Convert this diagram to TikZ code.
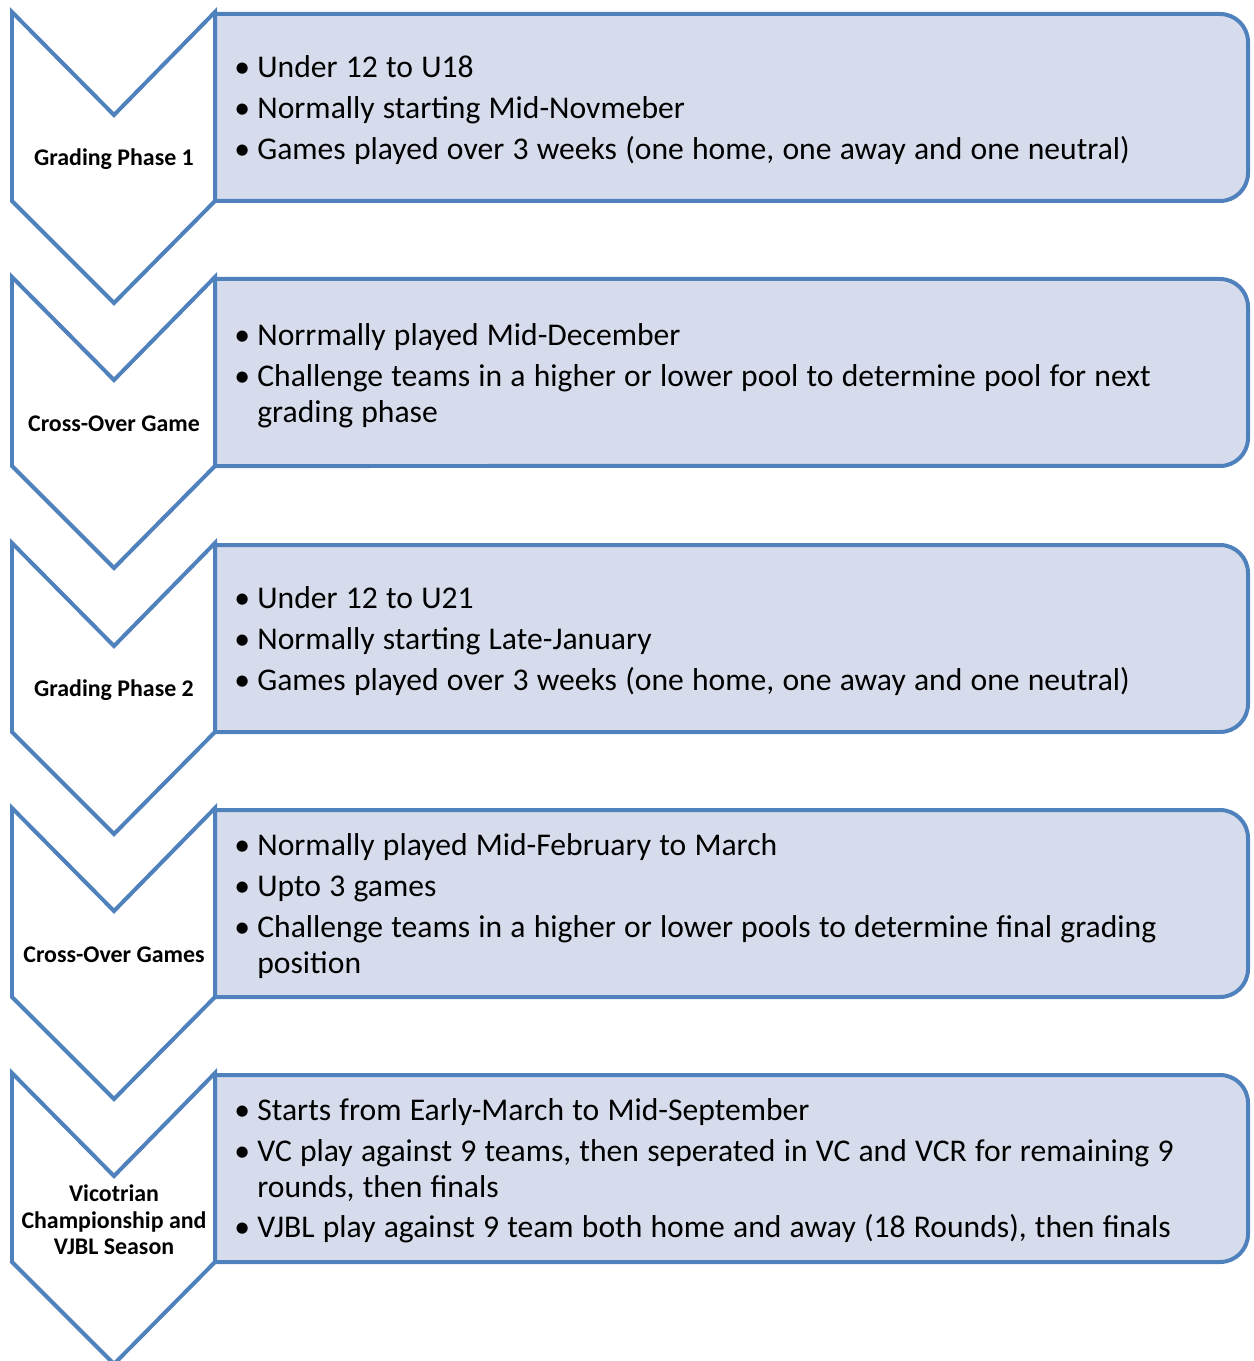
\documentclass[tikz,border=0pt]{standalone}
\usepackage{fontspec}
\setmainfont{Carlito}
\definecolor{stageline}{RGB}{79,129,189}
\definecolor{stagefill}{RGB}{214,220,236}
\newcommand{\stageitem}[1]{\spaceskip=0.26em\xspaceskip=0.26em
  \hangindent=0.46cm\hangafter=1\noindent\makebox[0.46cm][l]{•}#1\par}

\begin{document}
\frenchspacing
\begin{tikzpicture}[x=0.02cm,y=-0.02cm,
                chevron/.style={draw=stageline,line width=0.08cm,fill=white,line join=miter},
                panel/.style={draw=stageline,line width=0.08cm,fill=stagefill,line join=miter},
                stagelabel/.style={font=\fontsize{13.6}{15}\selectfont\bfseries,align=center,inner sep=0pt},
                notes/.style={anchor=west,inner sep=0pt,text width=20cm,align=left,
                              font=\fontsize{18}{20.4}\selectfont\setlength{\parskip}{2.8pt}}]
  \useasboundingbox (0,0) rectangle (1253,1361);
  % chevrons and panels
  \foreach \y in {12,277,543,808,1073} {
    \draw[chevron] (12,\y) -- (114,\y+103) -- (215,\y) -- (215,\y+189)
                   -- (114,\y+291) -- (12,\y+189) -- cycle;
    \draw[panel] (215,\y+2) -- (1220,\y+2) arc[start angle=90,end angle=0,radius=0.56cm]
                 -- (1248,\y+161) arc[start angle=0,end angle=-90,radius=0.56cm]
                 -- (215,\y+189) -- cycle;
  }
  % chevron labels
  \node[stagelabel] (gp1)    at (114,159)  {Grading Phase 1};
  \node[stagelabel] (co1)    at (114,424)  {Cross-Over Game};
  \node[stagelabel] (gp2)    at (114,690)  {Grading Phase 2};
  \node[stagelabel] (co2)    at (114,955)  {Cross-Over Games};
  \node[stagelabel] (season) at (114,1220) {Vicotrian\\Championship and\\VJBL Season};
  % panel texts
  \node[notes] (gp1notes) at (234,110) {%
    \stageitem{Under 12 to U18}
    \stageitem{Normally starting Mid-Novmeber}
    \stageitem{Games played over 3 weeks (one home, one away and one neutral)}};
  \node[notes] (co1notes) at (234,376) {%
    \stageitem{Norrmally played Mid-December}
    \stageitem{Challenge teams in a higher or lower pool to determine pool for next\newline grading phase}};
  \node[notes] (gp2notes) at (234,641) {%
    \stageitem{Under 12 to U21}
    \stageitem{Normally starting Late-January}
    \stageitem{Games played over 3 weeks (one home, one away and one neutral)}};
  \node[notes] (co2notes) at (234,906) {%
    \stageitem{Normally played Mid-February to March}
    \stageitem{Upto 3 games}
    \stageitem{Challenge teams in a higher or lower pools to determine final grading\newline position}};
  \node[notes] (seasonnotes) at (234,1171) {%
    \stageitem{Starts from Early-March to Mid-September}
    \stageitem{VC play against 9 teams, then seperated in VC and VCR for remaining 9\newline rounds, then finals}
    \stageitem{VJBL play against 9 team both home and away (18 Rounds), then finals}};
\end{tikzpicture}
\end{document}
